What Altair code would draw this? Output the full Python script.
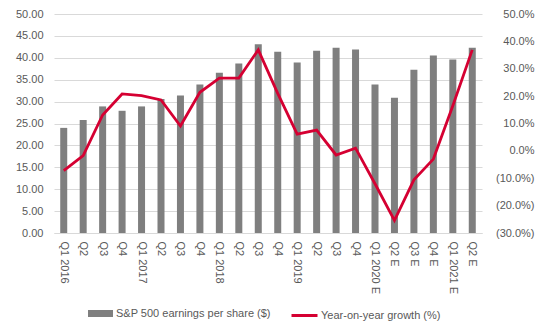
import altair as alt
import pandas as pd

labels = ["Q1 2016", "Q2", "Q3", "Q4", "Q1 2017", "Q2", "Q3", "Q4",
          "Q1 2018", "Q2", "Q3", "Q4", "Q1 2019", "Q2", "Q3", "Q4",
          "Q1 2020 E", "Q2 E", "Q3 E", "Q4 E", "Q1 2021 E", "Q2 E"]
eps = [24.0, 25.8, 28.9, 27.9, 28.9, 30.6, 31.4, 33.9, 36.6, 38.7, 43.1,
       41.4, 38.9, 41.6, 42.3, 41.9, 33.9, 30.9, 37.3, 40.5, 39.6, 42.3]
growth = [-7.2, -1.7, 13.1, 20.8, 20.2, 18.6, 9.1, 21.4, 26.6, 26.6, 36.9,
          21.0, 6.1, 7.6, -1.5, 1.0, -12.0, -25.4, -10.6, -3.0, 16.5, 36.9]

bar_name = "S&P 500 earnings per share ($)"
line_name = "Year-on-year growth (%)"

df = pd.DataFrame({"i": list(range(len(labels))), "eps": eps, "growth": growth})

FONT = "Liberation Sans"
TXT = "#595959"
label_arr = "[" + ",".join("'" + l + "'" for l in labels) + "]"

x = alt.X("i:O", title=None,
          scale=alt.Scale(paddingInner=0, paddingOuter=0),
          axis=alt.Axis(labelExpr=label_arr + "[datum.value]", labelAngle=90,
                        labelAlign="left", labelBaseline="middle",
                        ticks=False, labelPadding=8, domain=True,
                        domainColor="#d9d9d9", grid=False))

base = alt.Chart(df)

bars = base.transform_calculate(s="'" + bar_name + "'").mark_bar(size=7).encode(
    x=x,
    y=alt.Y("eps:Q", title=None,
            scale=alt.Scale(domain=[0, 50], nice=False),
            axis=alt.Axis(values=[0, 5, 10, 15, 20, 25, 30, 35, 40, 45, 50],
                          format=".2f", ticks=False, domain=False,
                          labelPadding=11, gridColor="#d9d9d9")),
    color=alt.Color("s:N", scale=alt.Scale(domain=[bar_name], range=["#7f7f7f"]),
                    legend=alt.Legend(title=None, orient="none", legendX=34, legendY=287,
                                      symbolType="M-1,-0.28H1V0.28H-1Z",
                                      symbolSize=625, symbolStrokeWidth=0,
                                      labelOffset=3, padding=0)),
)

line = base.transform_calculate(s="'" + line_name + "'").mark_line(strokeWidth=2.8).encode(
    x=x,
    y=alt.Y("growth:Q", title=None,
            scale=alt.Scale(domain=[-30, 50], nice=False),
            axis=alt.Axis(orient="right", values=[-30, -20, -10, 0, 10, 20, 30, 40, 50],
                          labelExpr="datum.value < 0 ? '(' + format(-datum.value, '.1f') + '%)' : format(datum.value, '.1f') + '%\u00a0'",
                          labelAlign="right", labelPadding=52,
                          ticks=False, domain=False, grid=False)),
    stroke=alt.Stroke("s:N", scale=alt.Scale(domain=[line_name], range=["#d50032"]),
                      legend=alt.Legend(title=None, orient="none", legendX=236, legendY=287,
                                        symbolType="stroke", symbolSize=676,
                                        symbolStrokeWidth=3, labelOffset=2, padding=0)),
)

chart = alt.layer(bars, line).resolve_scale(y="independent").properties(
    width=428, height=219,
    autosize=alt.AutoSizeParams(type="none"),
    padding={"left": 54, "top": 14, "right": 68, "bottom": 97},
    background="white",
).configure_view(stroke=None).configure_axis(
    labelFont=FONT, labelFontSize=11, labelColor=TXT
).configure_legend(
    labelFont=FONT, labelFontSize=11, labelColor=TXT
)

chart.save("out.html", embed_options={"renderer": "svg", "actions": False})
